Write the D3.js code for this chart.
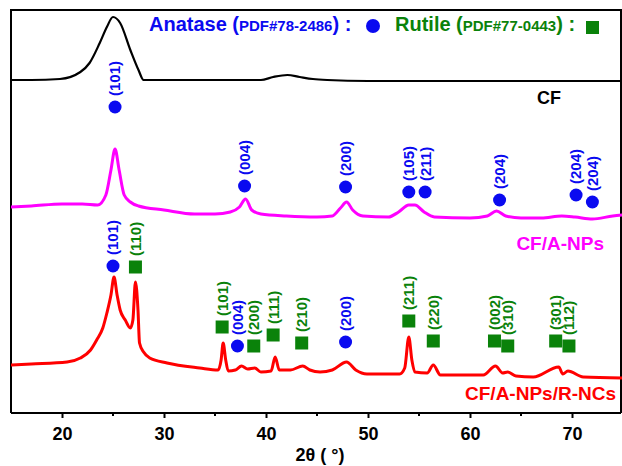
<!DOCTYPE html>
<html>
<head>
<meta charset="utf-8">
<script src="https://cdn.jsdelivr.net/npm/d3@7"></script>
<style>
  body { margin: 0; background: #fff; }
  text { font-family: Arial, "Liberation Sans", sans-serif; font-weight: bold; }
</style>
</head>
<body>
<script>
// XRD patterns, [2theta, intensity a.u.]
cfData = [
  [15, 333], [17, 333], [19.8, 334], [21.8, 341], [22.7, 350], [23.7, 370], [24.4, 386],
  [25.0, 396], [25.7, 390], [26.7, 363], [27.5, 343], [28.0, 333], [30, 333], [35, 333],
  [39.5, 333], [40.7, 336], [42.1, 338], [43.3, 336], [44.6, 334], [46, 333], [50, 332],
  [55, 332], [60, 332], [65, 332], [70, 332], [75, 332]
]

aNpsData = [
  [15, 206], [17, 207], [20, 209], [22, 209], [23.5, 208], [24.3, 218], [24.8, 243],
  [25.2, 264], [25.6, 243], [26.1, 218], [26.7, 211], [27.5, 207], [30, 203], [33, 199],
  [35, 199], [36.5, 201], [37.4, 206], [38.0, 214], [38.6, 203], [39.5, 199], [42, 197],
  [45, 196], [46.5, 197], [47.3, 205], [47.9, 211], [48.5, 203], [49.5, 197], [52, 196],
  [53, 201], [54, 208], [54.6, 208], [55.5, 201], [56.5, 196], [60, 195], [61.7, 197],
  [62.6, 202], [63.5, 197], [65, 195], [67, 195], [69, 197], [70.3, 196], [72, 194],
  [74, 197], [75, 198]
]

rNcsData = [
  [15, 48], [17, 49], [20.5, 51], [21.8, 55], [22.8, 63], [23.4, 73], [24.0, 85], [24.4, 100],
  [24.8, 118], [25.1, 136], [25.4, 118], [25.7, 103], [26.2, 93], [26.7, 85], [26.95, 93],
  [27.2, 131], [27.45, 103], [27.6, 70], [28.0, 61], [28.6, 55], [30.3, 50], [33.5, 45],
  [35.3, 43], [35.6, 53], [35.8, 70], [36.05, 53], [36.3, 42], [37.0, 43], [37.6, 47],
  [38.2, 44], [38.9, 45], [39.5, 41], [40.5, 42], [40.9, 56], [41.3, 43], [42.4, 43],
  [43.6, 47], [44.3, 43], [45.3, 41], [46.5, 43], [47.9, 51], [48.8, 43], [49.9, 39],
  [53.1, 39], [53.6, 45], [54.0, 76], [54.3, 53], [54.6, 41], [55.8, 40], [56.4, 48],
  [57.1, 38], [61.3, 38], [62.5, 47], [63.2, 40], [63.7, 41], [64.5, 37], [66.2, 36],
  [68.7, 46], [69.1, 39], [69.6, 42], [71.1, 36], [75, 35]
]

// peak markers
anataseTheta = [25.2, 37.9, 47.8, 54.0, 55.6, 62.9, 70.4, 72.0, 25.0, 37.2, 47.8]
anataseHeight = [306, 227, 226, 221, 221, 213, 218, 211, 147, 67, 71]
anataseLabels = ['(101)', '(004)', '(200)', '(105)', '(211)', '(204)', '(204)', '(204)', '(101)', '(004)', '(200)']

rutileTheta = [27.2, 35.7, 38.8, 40.7, 43.5, 54.0, 56.4, 62.4, 63.7, 68.4, 69.7]
rutileHeight = [146, 86, 67, 78, 70, 92, 72, 72, 67, 72, 67]
rutileLabels = ['(110)', '(101)', '(200)', '(111)', '(210)', '(211)', '(220)', '(002)', '(310)', '(301)', '(112)']

xTicks = [20, 30, 40, 50, 60, 70]
xMinorTicks = [25, 35, 45, 55, 65]

var blue = '#0a0af0', green = '#0a820a';

let svg = d3.select('body')
  .append('svg')
  .attr('width', 622)
  .attr('height', 466);

var xScale = d3.scaleLinear().domain([15, 75]).range([11, 623]),
  yScale = d3.scaleLinear().domain([0, 403]).range([413, 10]);

//frame
svg.append('path')
  .attr('d', 'M11,413V10H621V413')
  .attr('fill', 'none')
  .attr('stroke', '#000')
  .attr('stroke-width', 2);

//add x axis
var xAxis = svg.append('g')
  .attr('transform', 'translate(0,413)')
  .call(d3.axisBottom(xScale).tickValues(xTicks).tickSize(5).tickSizeOuter(0).tickPadding(9));
xAxis.select('.domain').attr('stroke-width', 2).attr('d', 'M11,0H621');
xAxis.selectAll('.tick line').attr('stroke-width', 2);
xAxis.selectAll('.tick text')
  .style('font-size', '18px')
  .style('font-weight', 'bold')
  .attr('font-family', 'Arial, Liberation Sans, sans-serif')
  .attr('fill', '#000');

svg.append('g')
  .selectAll('line')
  .data(xMinorTicks)
  .enter().append('line')
  .attr('x1', function (d) { return xScale(d); })
  .attr('x2', function (d) { return xScale(d); })
  .attr('y1', 413)
  .attr('y2', 416)
  .attr('stroke', '#000')
  .attr('stroke-width', 2);

//axis title
svg.append('text')
  .attr('x', 320)
  .attr('y', 461)
  .attr('text-anchor', 'middle')
  .style('font-size', '18px')
  .text('2θ ( °)');

//curves
var line = d3.line()
  .x(function (d) { return xScale(d[0]); })
  .y(function (d) { return yScale(d[1]); })
  .curve(d3.curveMonotoneX);

svg.append('path').datum(cfData)
  .attr('d', line).attr('fill', 'none').attr('stroke', '#000').attr('stroke-width', 2.2);
svg.append('path').datum(aNpsData)
  .attr('d', line).attr('fill', 'none').attr('stroke', '#ff00ff').attr('stroke-width', 3);
svg.append('path').datum(rNcsData)
  .attr('d', line).attr('fill', 'none').attr('stroke', '#ff0000').attr('stroke-width', 3);

//curve labels
svg.append('text').attr('x', 537).attr('y', 104).style('font-size', '18px').attr('fill', '#000').text('CF');
svg.append('text').attr('x', 604).attr('y', 250).attr('text-anchor', 'end').style('font-size', '19px').attr('fill', '#ff00ff').text('CF/A-NPs');
svg.append('text').attr('x', 616).attr('y', 400).attr('text-anchor', 'end').style('font-size', '19px').attr('fill', '#ff0000').text('CF/A-NPs/R-NCs');

//anatase markers
var anatase = anataseTheta.map(function (t, i) { return { t: t, h: anataseHeight[i], label: anataseLabels[i] }; });
var rutile = rutileTheta.map(function (t, i) { return { t: t, h: rutileHeight[i], label: rutileLabels[i] }; });

svg.append('g')
  .selectAll('circle')
  .data(anatase)
  .enter().append('circle')
  .attr('cx', function (d) { return xScale(d.t); })
  .attr('cy', function (d) { return yScale(d.h); })
  .attr('r', 6.5)
  .attr('fill', blue);

svg.append('g')
  .selectAll('rect')
  .data(rutile)
  .enter().append('rect')
  .attr('x', function (d) { return xScale(d.t) - 6.5; })
  .attr('y', function (d) { return yScale(d.h) - 6.5; })
  .attr('width', 13)
  .attr('height', 13)
  .attr('fill', green);

//hkl labels
function addLabels(data, color) {
  svg.append('g')
    .selectAll('text')
    .data(data)
    .enter().append('text')
    .attr('transform', function (d) {
      return 'translate(' + xScale(d.t) + ',' + (yScale(d.h) - 11) + ') rotate(-90)';
    })
    .attr('dy', '0.36em')
    .style('font-size', '15px')
    .attr('fill', color)
    .text(function (d) { return d.label; });
}
addLabels(anatase, blue);
addLabels(rutile, green);

//legend
var leg1 = svg.append('text').attr('x', 149).attr('y', 31).attr('fill', blue).style('font-size', '20px');
leg1.append('tspan').text('Anatase (');
leg1.append('tspan').style('font-size', '15px').text('PDF#78-2486');
leg1.append('tspan').text(') :');
svg.append('circle').attr('cx', 373).attr('cy', 26).attr('r', 7).attr('fill', blue);

var leg2 = svg.append('text').attr('x', 395).attr('y', 31).attr('fill', green).style('font-size', '20px');
leg2.append('tspan').text('Rutile (');
leg2.append('tspan').style('font-size', '15px').text('PDF#77-0443');
leg2.append('tspan').text(') :');
svg.append('rect').attr('x', 586).attr('y', 21).attr('width', 13).attr('height', 13).attr('fill', green);
</script>
</body>
</html>
